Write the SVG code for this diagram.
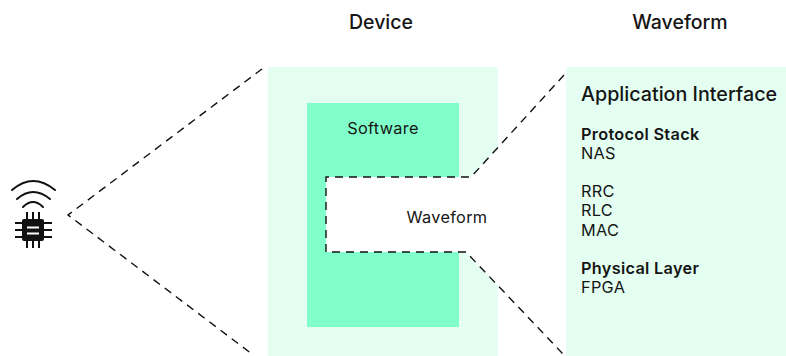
<svg xmlns="http://www.w3.org/2000/svg" width="786" height="356" viewBox="0 0 786 356">
<style>
text{font-family:"Inter","Liberation Sans",sans-serif;fill:#151515}
.h{font-size:19.500px;font-weight:500}
.t{font-size:16.300px;letter-spacing:.3px}
.b{font-size:16.300px;font-weight:600;letter-spacing:.3px}
.d{fill:none;stroke:#111;stroke-width:1.4;stroke-dasharray:8 6}
.w{fill:none;stroke:#111;stroke-width:2;stroke-linecap:round}
</style>
<rect width="786" height="356" fill="#fff"/>
<g id="device">
<rect x="268" y="67" width="230" height="289" fill="#e4fff1"/>
<rect x="307" y="103" width="152" height="224" fill="#80ffca"/>
<path d="M326 177H471L498 147V286L466 252H326Z" fill="#fff"/>
<text class="h" x="381" y="29" text-anchor="middle">Device</text>
<text class="t" x="383" y="134" text-anchor="middle">Software</text>
<text class="t" x="447" y="223" text-anchor="middle">Waveform</text>
</g>
<g id="waveform">
<rect x="566" y="67" width="220" height="289" fill="#e4fff1"/>
<text class="h" x="680" y="29" text-anchor="middle">Waveform</text>
<text x="581" y="101" style="font-size:19.700px;font-weight:500">Application Interface</text>
<text class="b" x="581" y="140">Protocol Stack</text>
<text class="t" x="581" y="159">NAS</text>
<text class="t" x="581" y="197">RRC</text>
<text class="t" x="581" y="216">RLC</text>
<text class="t" x="581" y="236">MAC</text>
<text class="b" x="581" y="274">Physical Layer</text>
<text class="t" x="581" y="293">FPGA</text>
</g>
<g id="chip">
<path class="w" d="M12 190Q33 172 55 190M17 199Q33 185 50 199M23 207Q33 197 43 207"/>
<rect x="22" y="219" width="22" height="22" rx="2" fill="#111"/>
<path d="M27 212V248M33 212V248M39 212V248M15 223H52M15 230H52M15 237H52" stroke="#111" stroke-width="2" fill="none"/>
<path d="M27 227.500H39M27 233.500H39" stroke="#fff" stroke-width="2" fill="none"/>
</g>
<g id="connectors">
<path class="d" d="M262 69L68 215L252 354"/>
<path class="d" d="M564 75L471 177H326V252H466L563 354"/>
</g>
</svg>
